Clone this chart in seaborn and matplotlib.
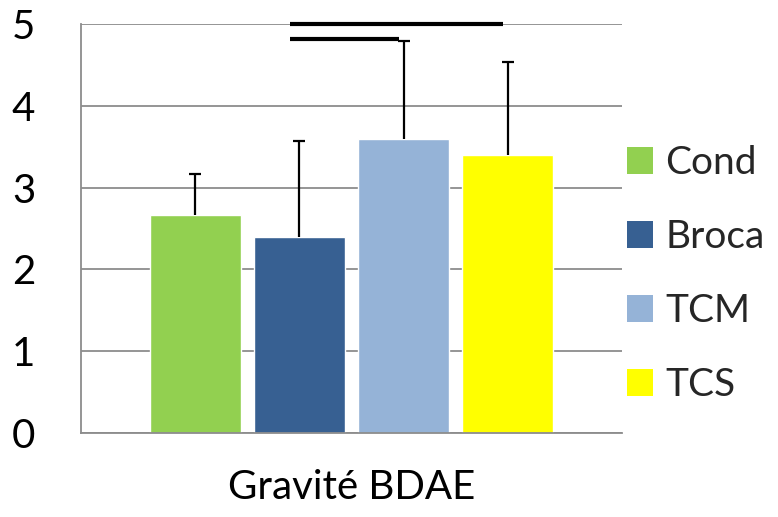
import pandas as pd
import seaborn as sns
import matplotlib.pyplot as plt
from matplotlib.patches import Patch

# data
measure = ["Gravité BDAE"]
groups = ["Cond", "Broca", "TCM", "TCS"]
means = [2.67, 2.40, 3.59, 3.40]
sd = [0.50, 1.17, 1.20, 1.14]
colors = ["#92D050", "#376092", "#95B3D7", "#FFFF00"]
yticks = [0, 1, 2, 3, 4, 5]
# significance lines: (from group, to group, height)
sig_lines = [("Broca", "TCS", 5.0), ("Broca", "TCM", 4.82)]

df = pd.DataFrame({
    "measure": measure * len(groups),
    "group": groups,
    "score": means,
})

sns.set_style("white")
plt.rcParams["font.family"] = ["Lato", "DejaVu Sans"]

fig = plt.figure(figsize=(7.78, 5.17), dpi=100)
ax = fig.add_axes([81 / 778, 1 - 433 / 517, 541 / 778, 409 / 517])

sns.barplot(data=df, x="measure", y="score", hue="group", palette=colors,
            hue_order=groups, width=0.77, gap=0.125, saturation=1,
            errorbar=None, legend=False, ax=ax)

# upper-only error bars (no cap at the bar top), on the bars seaborn drew
bars = {g: p for g, p in zip(groups, ax.patches)}
xs = [bars[g].get_x() + bars[g].get_width() / 2 for g in groups]
tops = [m + s for m, s in zip(means, sd)]
ax.vlines(xs, means, tops, color="black", lw=1.6, zorder=3)
ax.plot(xs, tops, ls="none", marker="_", ms=9, mew=1.6, color="black",
        zorder=3)

# significance lines
for g1, g2, h in sig_lines:
    b1, b2 = bars[g1], bars[g2]
    x1 = b1.get_x() + 0.4 * b1.get_width()
    x2 = b2.get_x() + 0.45 * b2.get_width()
    ax.plot([x1, x2], [h, h], color="black", lw=3, solid_capstyle="butt",
            clip_on=False, zorder=4)

ax.set_ylim(0, 5)
ax.set_xlim(-0.5, 0.5)
ax.set_yticks(yticks)
ax.yaxis.grid(True, color="#8c8c8c", lw=1.3)
ax.set_axisbelow(True)
for s in ["top", "right"]:
    ax.spines[s].set_visible(False)
for s in ["left", "bottom"]:
    ax.spines[s].set_color("#8c8c8c")
    ax.spines[s].set_linewidth(1.3)

ax.tick_params(axis="y", length=11, width=1.3, color="#8c8c8c",
               labelsize=29, pad=22, labelcolor="black")
ax.tick_params(axis="x", which="major", length=0, labelsize=29, pad=26,
               labelcolor="black")
ax.set_xticks([-0.5, 0.5], minor=True)
ax.tick_params(axis="x", which="minor", length=11, width=1.3, color="#8c8c8c")
ax.set_xlabel("")
ax.set_ylabel("")

handles = [Patch(facecolor=c, edgecolor="none") for c in colors]
fig.legend(handles, groups, loc="center left", bbox_to_anchor=(627 / 778, 0.47),
           frameon=False, fontsize=28, handlelength=0.68, handleheight=0.68,
           handletextpad=0.3, labelspacing=0.98, borderpad=0, borderaxespad=0)

fig.savefig("out.png", dpi=100)
